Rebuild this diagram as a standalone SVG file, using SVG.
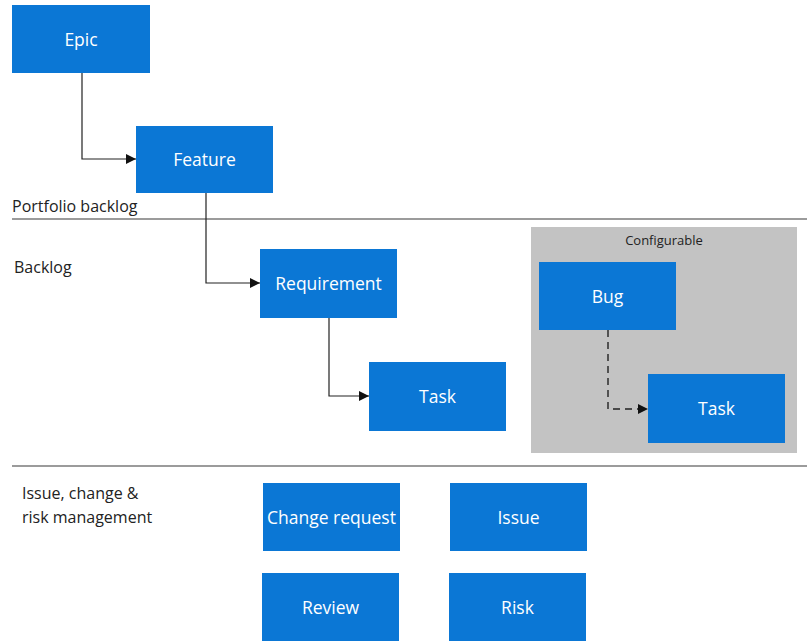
<svg xmlns="http://www.w3.org/2000/svg" width="807" height="641" viewBox="0 0 807 641">
<defs>
<style>
.box{fill:#0b77d5;}
.bt{font-family:"Open Sans","Noto Sans",sans-serif;font-size:17.5px;fill:#ffffff;text-anchor:middle;dominant-baseline:central;}
.lbl{font-family:"Open Sans","Noto Sans",sans-serif;font-size:16px;fill:#222222;}
.sep{stroke:#7a7a7a;stroke-width:1.5;fill:none;}
.con{stroke:#222222;stroke-width:1.2;fill:none;}
.dash{stroke:#222222;stroke-width:1.4;fill:none;stroke-dasharray:7,5;}
</style>
<marker id="arr" viewBox="0 0 10 10" refX="10" refY="5" markerWidth="10" markerHeight="10" markerUnits="userSpaceOnUse" orient="auto">
<path d="M0,0 L10,5 L0,10 z" fill="#111111"/>
</marker>
</defs>
<rect width="807" height="641" fill="#ffffff"/>
<g id="sections">
<line class="sep" x1="12" y1="219" x2="807" y2="219"/>
<line class="sep" x1="12" y1="466" x2="807" y2="466"/>
<text class="lbl" x="12" y="212">Portfolio backlog</text>
<text class="lbl" x="14" y="273">Backlog</text>
<text class="lbl" x="22" y="499">Issue, change &amp;</text>
<text class="lbl" x="22" y="523">risk management</text>
</g>
<g id="configurable">
<rect x="531" y="227" width="266" height="226" fill="#c3c3c3"/>
<text x="664" y="245" font-family="'Open Sans','Noto Sans',sans-serif" font-size="13px" fill="#222222" text-anchor="middle">Configurable</text>
</g>
<g id="connectors">
<polyline class="con" points="82,73 82,159 136,159" marker-end="url(#arr)"/>
<polyline class="con" points="206,193 206,283 260,283" marker-end="url(#arr)"/>
<polyline class="con" points="329,318 329,396 369,396" marker-end="url(#arr)"/>
<polyline class="dash" points="608,330 608,409 648,409" marker-end="url(#arr)"/>
</g>
<g id="epic"><rect class="box" x="12" y="5" width="138" height="68"/><text class="bt" x="81" y="39">Epic</text></g>
<g id="feature"><rect class="box" x="136" y="126" width="137" height="67"/><text class="bt" x="204.5" y="159">Feature</text></g>
<g id="requirement"><rect class="box" x="260" y="249" width="137" height="69"/><text class="bt" x="328.5" y="283">Requirement</text></g>
<g id="task"><rect class="box" x="369" y="362" width="137" height="69"/><text class="bt" x="437.5" y="396">Task</text></g>
<g id="bug"><rect class="box" x="539" y="262" width="137" height="68"/><text class="bt" x="607.5" y="296">Bug</text></g>
<g id="task2"><rect class="box" x="648" y="374" width="137" height="69"/><text class="bt" x="716.5" y="408">Task</text></g>
<g id="change-request"><rect class="box" x="263" y="483" width="137" height="68"/><text class="bt" x="331.5" y="517">Change request</text></g>
<g id="issue"><rect class="box" x="450" y="483" width="137" height="68"/><text class="bt" x="518.5" y="517">Issue</text></g>
<g id="review"><rect class="box" x="262" y="573" width="137" height="68"/><text class="bt" x="330.5" y="607">Review</text></g>
<g id="risk"><rect class="box" x="449" y="573" width="137" height="68"/><text class="bt" x="517.5" y="607">Risk</text></g>
</svg>
